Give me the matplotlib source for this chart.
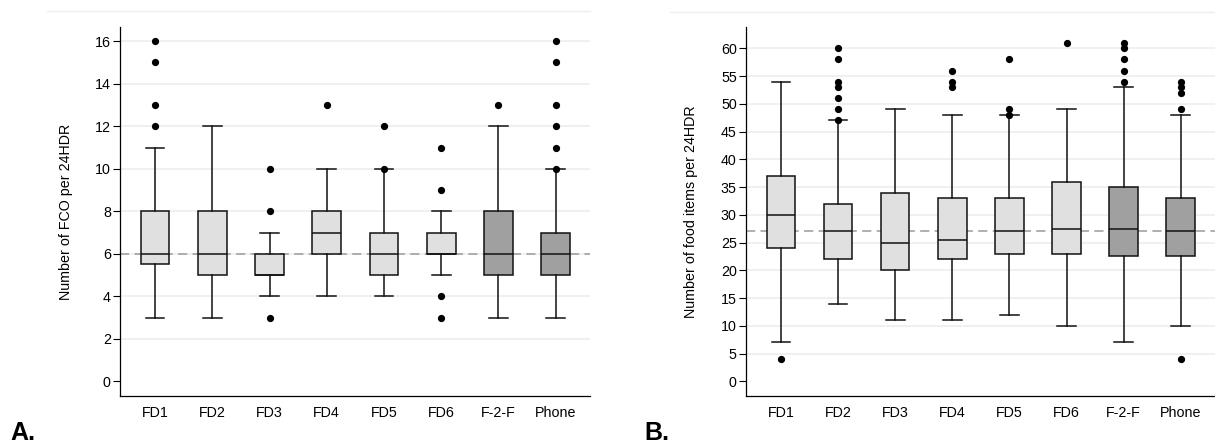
import matplotlib.pyplot as plt
from matplotlib.lines import Line2D

plt.rcParams['font.family'] = ['Liberation Sans', 'DejaVu Sans']

groups = ['FD1', 'FD2', 'FD3', 'FD4', 'FD5', 'FD6', 'F-2-F', 'Phone']
box_colors = ['#e0e0e0'] * 6 + ['#a0a0a0'] * 2

# A: number of FCO per 24HDR
fco_whislo = [3, 3, 4, 4, 4, 5, 3, 3]
fco_q1 = [5.5, 5, 5, 6, 5, 6, 5, 5]
fco_med = [6, 6, 5, 7, 6, 6, 6, 6]
fco_q3 = [8, 8, 6, 8, 7, 7, 8, 7]
fco_whishi = [11, 12, 7, 10, 10, 8, 12, 10]
fco_fliers = [[12, 13, 15, 16], [], [3, 8, 10], [13], [10, 12],
              [3, 4, 9, 11], [13], [10, 11, 12, 13, 15, 16]]
fco_ref = 6
fco_ticks = list(range(0, 17, 2))

# B: number of food items per 24HDR
items_whislo = [7, 14, 11, 11, 12, 10, 7, 10]
items_q1 = [24, 22, 20, 22, 23, 23, 22.5, 22.5]
items_med = [30, 27, 25, 25.5, 27, 27.5, 27.5, 27]
items_q3 = [37, 32, 34, 33, 33, 36, 35, 33]
items_whishi = [54, 47, 49, 48, 48, 49, 53, 48]
items_fliers = [[4], [47, 49, 51, 53, 54, 58, 60], [], [53, 54, 56],
                [48, 49, 58], [61], [54, 56, 58, 60, 61], [4, 49, 52, 53, 54]]
items_ref = 27
items_ticks = list(range(0, 61, 5))


def draw_panel(ax, whislo, q1, med, q3, whishi, fliers, ref, ticks, ylim, ylabel):
    stats = []
    for i in range(len(groups)):
        stats.append(dict(label=groups[i], whislo=whislo[i], q1=q1[i], med=med[i],
                          q3=q3[i], whishi=whishi[i], fliers=fliers[i]))
    bp = ax.bxp(stats, positions=range(len(groups)), widths=0.5, capwidths=0.33,
                patch_artist=True,
                boxprops=dict(edgecolor='#111111', linewidth=1.1),
                whiskerprops=dict(color='#111111', linewidth=1.1),
                capprops=dict(color='#111111', linewidth=1.1),
                medianprops=dict(color='#111111', linewidth=1.1),
                flierprops=dict(marker='o', markerfacecolor='black', markeredgecolor='black',
                                markersize=4.2, linestyle='none'))
    for patch, c in zip(bp['boxes'], box_colors):
        patch.set_facecolor(c)
        patch.set_zorder(2)

    # reference line through the overall median
    ax.axhline(ref, color='#9a9a9a', linewidth=1.1, dashes=(6, 3.5), zorder=1.5)

    ax.set_xlim(-0.62, 7.6)
    ax.set_ylim(*ylim)
    ax.set_yticks(ticks)
    ax.set_axisbelow(True)
    ax.yaxis.grid(True, color='#e8eef0', linewidth=1.1)
    ax.get_ygridlines()[0].set_visible(False)

    for s in ['top', 'right']:
        ax.spines[s].set_visible(False)
    for s in ['left', 'bottom']:
        ax.spines[s].set_linewidth(0.9)
    ax.tick_params(axis='y', length=4.8, width=0.8, pad=1.5, labelsize=10.3)
    ax.tick_params(axis='x', length=0, pad=7, labelsize=10.3)
    ax.set_ylabel(ylabel, fontsize=10.3)


fig = plt.figure(figsize=(12.15, 4.43), dpi=100)
ax1 = fig.add_axes([0.0984, 0.1061, 0.3872, 0.833])
ax2 = fig.add_axes([0.6136, 0.1061, 0.3864, 0.833])

draw_panel(ax1, fco_whislo, fco_q1, fco_med, fco_q3, fco_whishi, fco_fliers,
           fco_ref, fco_ticks, (-0.69, 16.67), 'Number of FCO per 24HDR')
draw_panel(ax2, items_whislo, items_q1, items_med, items_q3, items_whishi, items_fliers,
           items_ref, items_ticks, (-2.65, 63.85), 'Number of food items per 24HDR')
ax1.yaxis.set_label_coords(-0.100, 0.5)
ax2.yaxis.set_label_coords(-0.102, 0.5)

# thin rules above each panel
fig.add_artist(Line2D([47 / 1215, 590 / 1215], [1 - 11.3 / 443] * 2, color='#eeeeee', linewidth=1))
fig.add_artist(Line2D([670 / 1215, 1.0], [1 - 12.3 / 443] * 2, color='#eeeeee', linewidth=1))

fig.text(10 / 1215, 3 / 443, 'A.', fontsize=18, fontweight='bold', va='baseline')
fig.text(644 / 1215, 3 / 443, 'B.', fontsize=18, fontweight='bold', va='baseline')

fig.savefig('out.png', dpi=100)
